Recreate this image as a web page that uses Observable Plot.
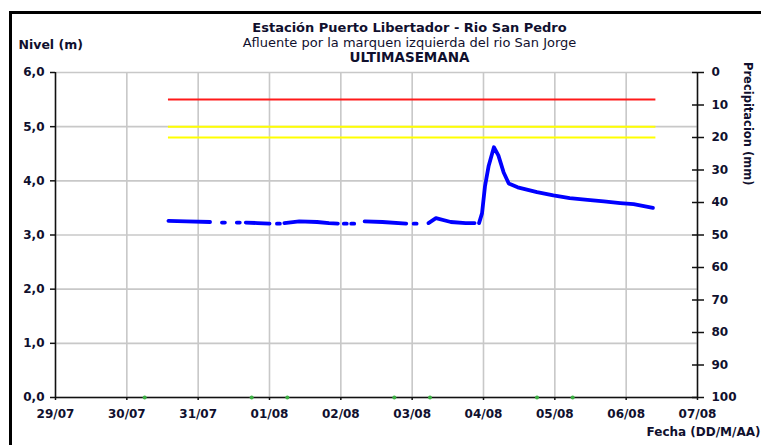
<!DOCTYPE html>
<html><head><meta charset="utf-8">
<script src="https://cdn.jsdelivr.net/npm/d3@7"></script>
<script src="https://cdn.jsdelivr.net/npm/@observablehq/plot@0.6"></script>
<style>
body{margin:0;background:#fff;}
#wrap{position:relative;width:761px;height:445px;overflow:hidden;background:#fff;}
.bd{position:absolute;background:#000;}
#rlab{position:absolute;left:741px;top:62px;writing-mode:vertical-rl;font-family:"DejaVu Sans";font-weight:bold;font-size:11.5px;color:#10102e;line-height:14px;white-space:nowrap;z-index:2;}
</style></head><body>
<div id="wrap"><div class="bd" style="left:9px;top:11px;width:752px;height:3px"></div><div class="bd" style="left:9px;top:11px;width:3px;height:434px"></div><div id="rlab"></div></div>
<script>
const titleText = "Estación Puerto Libertador - Rio San Pedro";
const subtitleText = "Afluente por la marquen izquierda del rio San Jorge";
const periodText = "ULTIMASEMANA";
const leftLabel = "Nivel (m)";
const rightLabel = "Precipitacion (mm)";
const bottomLabel = "Fecha (DD/M/AA)";

const xTicks = ["29/07/2021 00:00","30/07/2021 00:00","31/07/2021 00:00","01/08/2021 00:00","02/08/2021 00:00","03/08/2021 00:00","04/08/2021 00:00","05/08/2021 00:00","06/08/2021 00:00","07/08/2021 00:00"];
const levelTicks = [0,1,2,3,4,5,6];
const precipTicks = [0,10,20,30,40,50,60,70,80,90,100];

const levelTimes = [
"30/07/2021 14:00","30/07/2021 20:00","31/07/2021 04:00", null,
"31/07/2021 08:00","31/07/2021 09:00", null,
"31/07/2021 13:00","31/07/2021 14:00", null,
"31/07/2021 16:00","31/07/2021 20:00","01/08/2021 00:00", null,
"01/08/2021 02:30","01/08/2021 03:30", null,
"01/08/2021 05:00","01/08/2021 10:00","01/08/2021 16:00","01/08/2021 20:00","01/08/2021 23:00", null,
"02/08/2021 01:00","02/08/2021 02:00", null,
"02/08/2021 03:30","02/08/2021 04:30", null,
"02/08/2021 08:00","02/08/2021 14:00","02/08/2021 22:00", null,
"03/08/2021 00:30","03/08/2021 01:30", null,
"03/08/2021 05:30","03/08/2021 08:00","03/08/2021 13:00","03/08/2021 18:00","03/08/2021 21:00", null,
"03/08/2021 22:30","03/08/2021 23:30","04/08/2021 00:30","04/08/2021 01:45","04/08/2021 03:30","04/08/2021 05:00","04/08/2021 06:45","04/08/2021 08:30","04/08/2021 11:30","04/08/2021 18:00","04/08/2021 23:30","05/08/2021 05:00","05/08/2021 11:00","05/08/2021 16:30","05/08/2021 22:00","06/08/2021 02:30","06/08/2021 09:00"
];
const levelValues = [
3.26,3.25,3.24,null,
3.23,3.23,null,
3.23,3.23,null,
3.23,3.22,3.21,null,
3.21,3.21,null,
3.22,3.25,3.24,3.22,3.21,null,
3.21,3.21,null,
3.21,3.21,null,
3.25,3.24,3.21,null,
3.21,3.21,null,
3.22,3.31,3.24,3.22,3.22,null,
3.22,3.40,3.90,4.28,4.62,4.47,4.16,3.95,3.88,3.79,3.73,3.68,3.65,3.62,3.59,3.57,3.50
];

const thresholdLevels = [5.5, 5.0, 4.8];
const thresholdColors = ["#ff1a1a", "#ffff00", "#ffff00"];
const thresholdStart = "30/07/2021 14:00";
const thresholdEnd = "06/08/2021 10:00";

const rainTimes = ["30/07/2021 06:00","31/07/2021 18:00","01/08/2021 06:00","02/08/2021 18:00","03/08/2021 06:00","04/08/2021 18:00","05/08/2021 06:00"];
const rainLevels = [0,0,0,0,0,0,0];

const parse = d3.utcParse("%d/%m/%Y %H:%M");
const tickDates = xTicks.map(parse);
const levelRows = levelTimes.map((t, i) => ({date: t ? parse(t) : null, level: levelValues[i]}));
const thresholdRows = thresholdLevels.map((v, i) => ({level: v, color: thresholdColors[i], x1: parse(thresholdStart), x2: parse(thresholdEnd)}));
const rainRows = rainTimes.map((t, i) => ({date: parse(t), level: rainLevels[i]}));
const precipToLevel = p => 6 - p * 6 / 100;
const levelToPrecip = v => Math.round((6 - v) * 100 / 6);

const ink = "#10102e";
const fw = "bold";

const chart = Plot.plot({
  width: 761, height: 445,
  marginTop: 72, marginLeft: 55, marginRight: 64, marginBottom: 48,
  style: {fontFamily: "DejaVu Sans", background: "transparent", overflow: "visible"},
  x: {type: "utc", domain: [tickDates[0], tickDates[tickDates.length - 1]], axis: null},
  y: {domain: [0, 6], axis: null},
  color: {type: "identity"},
  marks: [
    Plot.gridX(tickDates, {stroke: "#c8c8c8", strokeOpacity: 1, strokeWidth: 1.6}),
    Plot.gridY(levelTicks, {stroke: "#c8c8c8", strokeOpacity: 1, strokeWidth: 1.6}),
    Plot.ruleY(thresholdRows, {y: "level", x1: "x1", x2: "x2", stroke: "color", strokeWidth: 2}),
    Plot.ruleY([0], {stroke: "#111", strokeWidth: 1.5}),
    Plot.ruleX([tickDates[0]], {stroke: "#111", strokeWidth: 1.5}),
    Plot.ruleX([tickDates[tickDates.length - 1]], {stroke: "#111", strokeWidth: 1.5}),
    Plot.dot(rainRows, {x: "date", y: "level", r: 2, fill: "#3cb043", stroke: "none"}),
    Plot.line(levelRows, {x: "date", y: "level", stroke: "#0000ff", strokeWidth: 3.8, strokeLinejoin: "round", strokeLinecap: "round"}),
    Plot.axisY(levelTicks, {anchor: "left", tickSize: 5, tickPadding: 6, tickFormat: d => d.toFixed(1).replace(".", ","), fontSize: 12, fontWeight: fw, fill: ink, stroke: "#111", strokeWidth: 1.5, label: null}),
    Plot.axisX(tickDates, {anchor: "bottom", tickSize: 3, tickPadding: 9, tickFormat: d3.utcFormat("%d/%m"), fontSize: 12, fontWeight: fw, fill: ink, stroke: "#111", strokeWidth: 1.5, label: null}),
    Plot.axisY(precipTicks.map(precipToLevel), {anchor: "right", tickSize: 12, dx: -6, fill: "none", stroke: "#111", strokeWidth: 1.5, label: null}),
    Plot.axisY(precipTicks.map(precipToLevel), {anchor: "right", tickSize: 0, tickPadding: 14, stroke: "none", tickFormat: levelToPrecip, fontSize: 12, fontWeight: fw, fill: ink, label: null}),
    Plot.text([titleText], {text: d => d, frameAnchor: "top", dx: 33, dy: -50, fontSize: 13, fontWeight: "bold", fill: ink}),
    Plot.text([subtitleText], {text: d => d, frameAnchor: "top", dx: 33, dy: -35, fontSize: 13, fill: ink}),
    Plot.text([periodText], {text: d => d, frameAnchor: "top", dx: 33, dy: -20, fontSize: 13.5, fontWeight: "bold", fill: ink}),
    Plot.text([leftLabel], {text: d => d, frameAnchor: "top-left", textAnchor: "start", dx: -37, dy: -32, fontSize: 12.5, fontWeight: "bold", fill: ink}),
    Plot.text([bottomLabel], {text: d => d, frameAnchor: "bottom-right", textAnchor: "end", dx: 63, dy: 38, fontSize: 12, fontWeight: "bold", fill: ink})
  ]
});
chart.style.position = "absolute";
chart.style.left = "0px";
chart.style.top = "0px";
document.getElementById("wrap").appendChild(chart);
document.getElementById("rlab").textContent = rightLabel;
</script>
</body></html>
